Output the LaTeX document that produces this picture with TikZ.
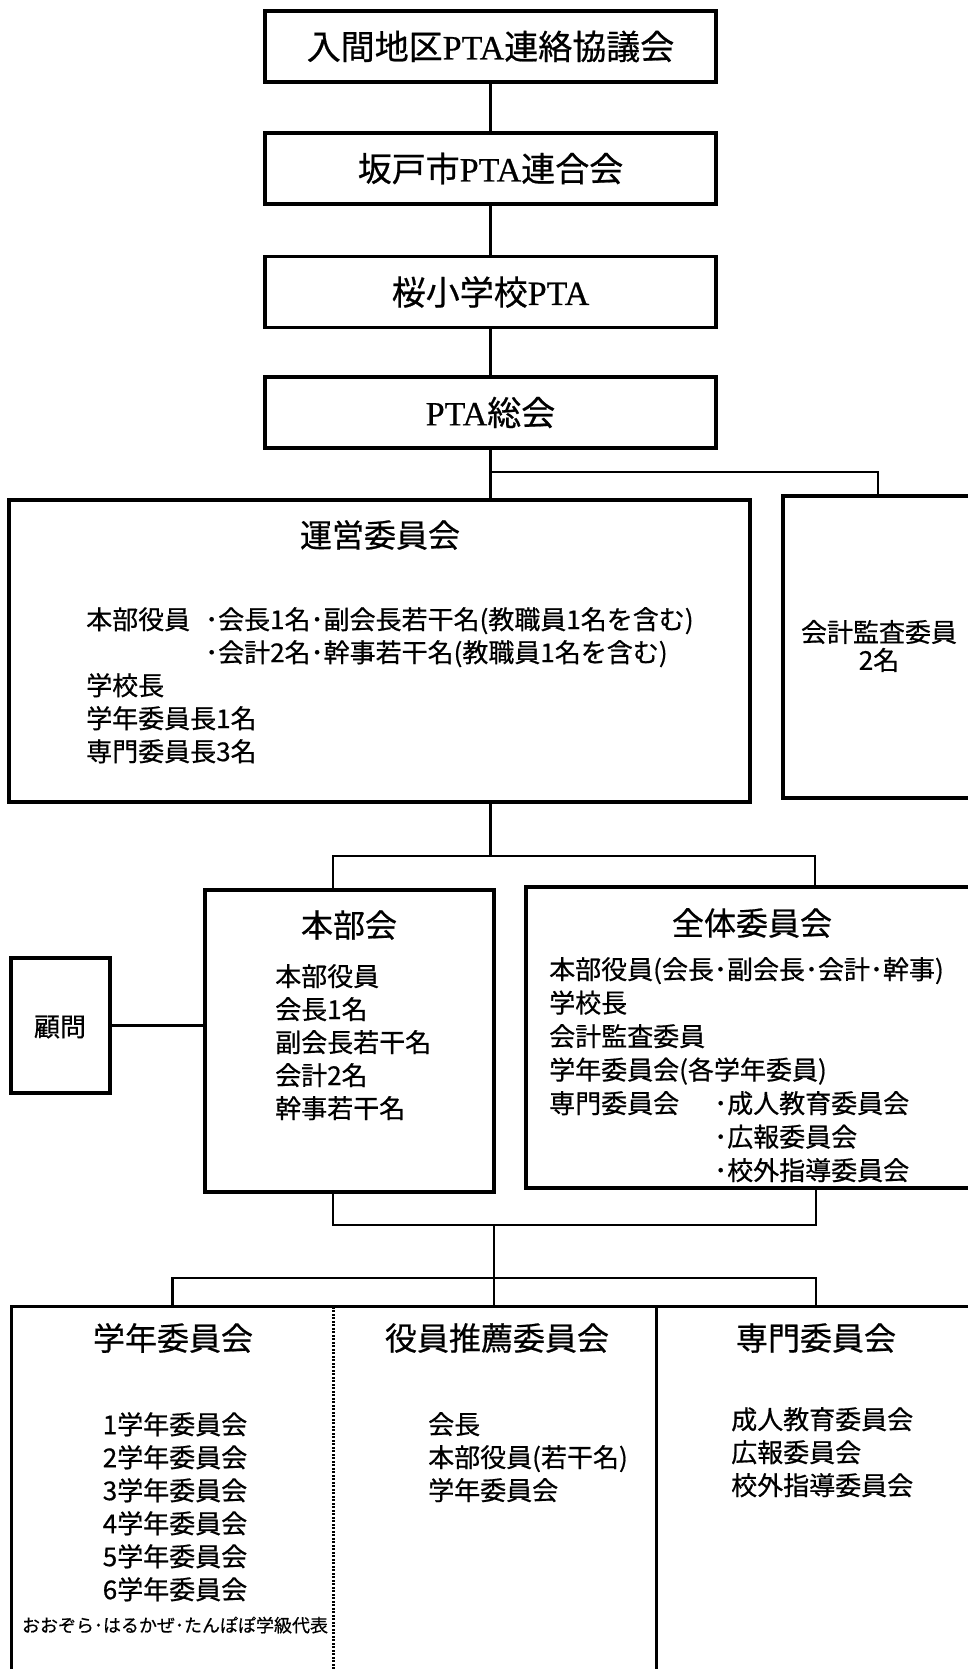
\documentclass[tikz,border=0pt]{standalone}
\usepackage{fontspec}
\newfontfamily\jp[FakeBold=0.6]{Noto Sans CJK JP}
\newfontfamily\pta[FakeBold=0.6]{Liberation Serif}
\tikzset{
  box/.style={draw, line width=3.2pt, rectangle, inner sep=0pt},
  frame/.style={draw=none, rectangle, inner sep=0pt},
  conn/.style={line width=2.8pt},
  edge/.style={line width=3.2pt},
  dotline/.style={line width=2.6pt, dash pattern=on 2pt off 1.5pt},
  ttl/.style={font=\jp\fontsize{34}{40}\selectfont},
  hd/.style={font=\jp\fontsize{32}{38}\selectfont, inner sep=0pt},
  body/.style={font=\jp\fontsize{26}{33}\selectfont, align=left, inner sep=0pt},
}
\begin{document}
\begin{tikzpicture}[x=1pt, y=-1pt]
\useasboundingbox (0,0) rectangle (968,1669);
\clip (0,0) rectangle (968,1669);
\fill[white] (0,0) rectangle (968,1669);

% top chain
\node[box, ttl, minimum width=451pt, minimum height=71pt] (b1) at (490.5,46.5) {入間地区{\pta PTA}連絡協議会};
\node[box, ttl, minimum width=451pt, minimum height=71pt] (b2) at (490.5,168.5) {坂戸市{\pta PTA}連合会};
\node[box, ttl, minimum width=451pt, minimum height=71pt] (b3) at (490.5,292) {桜小学校{\pta PTA}};
\node[box, ttl, minimum width=451pt, minimum height=71pt] (b4) at (490.5,412.5) {{\pta PTA}総会};

% second level
\node[box, minimum width=741pt, minimum height=302pt] (unei) at (379.5,651) {};
\node[box, minimum width=207pt, minimum height=302pt] (kaikei) at (886.5,647) {};

\node[hd] (uneit) at (380,535) {運営委員会};
\node[body, anchor=north west] (uneib) at (86,607) {本部役員\hspace{15pt}･会長1名･副会長若干名(教職員1名を含む)\\
\hspace*{119pt}･会計2名･幹事若干名(教職員1名を含む)\\
学校長\\
学年委員長1名\\
専門委員長3名};
\node[body, align=center, font=\jp\fontsize{26}{28}\selectfont] (kaikeit) at (879,646) {会計監査委員\\2名};

% third level
\node[box, minimum width=289pt, minimum height=302pt] (honbu) at (349.5,1041) {};
\node[box, minimum width=474pt, minimum height=301pt] (zentai) at (763,1037.5) {};
\node[box, minimum width=99pt, minimum height=135pt] (komon) at (60.5,1025.5) {};

\node[body] (komont) at (60,1027) {顧問};
\node[hd] (honbut) at (349,925) {本部会};
\node[body, anchor=north west] (honbub) at (275,964) {本部役員\\会長1名\\副会長若干名\\会計2名\\幹事若干名};
\node[hd] (zentait) at (752,923) {全体委員会};
\node[body, anchor=north west, font=\jp\fontsize{26}{33.5}\selectfont] (zentaib) at (549,957) {本部役員(会長･副会長･会計･幹事)\\
学校長\\
会計監査委員\\
学年委員会(各学年委員)\\
専門委員会\hspace{35pt}･成人教育委員会\\
\hspace*{165pt}･広報委員会\\
\hspace*{165pt}･校外指導委員会};

% bottom level
\node[frame, minimum width=321pt, minimum height=413pt] (gakunen) at (172.5,1513.5) {};
\node[frame, minimum width=323pt, minimum height=413pt] (yakuin) at (494.5,1513.5) {};
\node[frame, minimum width=320pt, minimum height=413pt] (senmon) at (816,1513.5) {};
\draw[edge] (gakunen.south west) -- (gakunen.north west) -- (senmon.north east) -- (senmon.south east);
\draw[dotline] (gakunen.north east) -- (gakunen.south east);
\draw[edge] (yakuin.north east) -- (yakuin.south east);

\node[hd] (gakunent) at (173,1338) {学年委員会};
\node[hd] (yakuint) at (497,1338) {役員推薦委員会};
\node[hd] (senmont) at (816,1338) {専門委員会};
\node[body, align=center, anchor=north] (gakunenb) at (175,1412) {1学年委員会\\2学年委員会\\3学年委員会\\4学年委員会\\5学年委員会\\6学年委員会};
\node[inner sep=0pt, font=\jp\fontsize{18}{20}\selectfont] (ozora) at (175,1625) {おおぞら･はるかぜ･たんぽぽ学級代表};
\node[body, anchor=north west] (yakuinb) at (428,1412) {会長\\本部役員(若干名)\\学年委員会};
\node[body, anchor=north west] (senmonb) at (731,1407) {成人教育委員会\\広報委員会\\校外指導委員会};

% connectors
\draw[conn] (b1) -- (b2);
\draw[conn] (b2) -- (b3);
\draw[conn] (b3) -- (b4);
\draw[conn] (b4.south) -- (b4.south |- unei.north);
\coordinate (br1) at (490.5,472);
\draw[conn] (br1) -| ([xshift=-8.5pt]kaikei.north);

\coordinate (bk1) at (490.5,856);
\coordinate (hL) at (333,856);
\coordinate (zR) at (815,856);
\draw[conn] (b4.south |- unei.south) -- (bk1);
\draw[conn] (hL |- honbu.north) -- (hL) -- (zR) -- (zR |- zentai.north);
\draw[conn] (komon.east) -- (komon.east -| honbu.west);

\coordinate (hL2) at (333,1225);
\coordinate (zR2) at (816,1225);
\coordinate (m2) at (494,1225);
\coordinate (lvl) at (0,1278);
\draw[conn] (hL2 |- honbu.south) -- (hL2) -- (zR2) -- (zR2 |- zentai.south);
\draw[conn] (m2) -- (m2 |- yakuin.north);
\draw[conn] (gakunen.north) -- (gakunen.north |- lvl) -- (senmon.north |- lvl) -- (senmon.north);
\end{tikzpicture}
\end{document}
